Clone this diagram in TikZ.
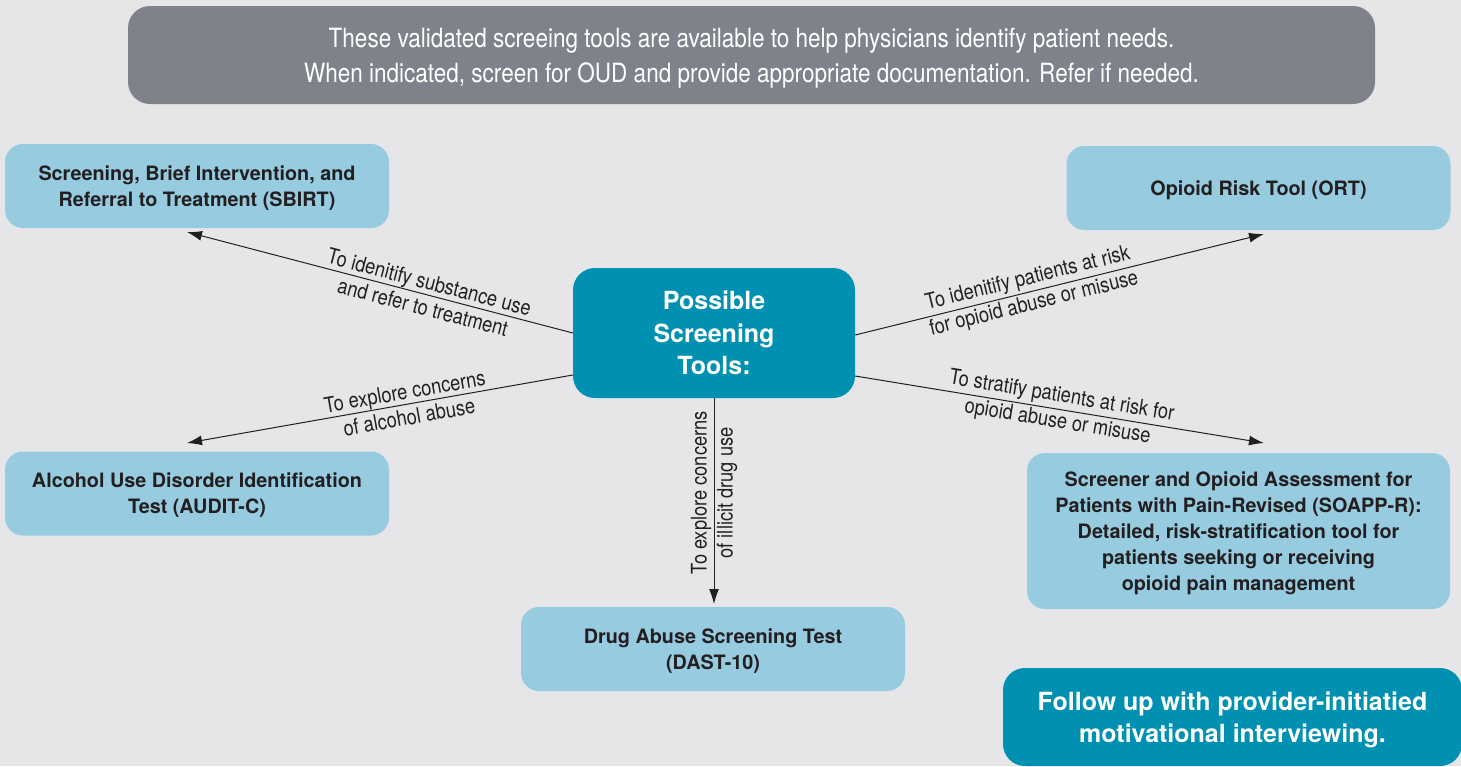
\documentclass[tikz,border=0pt]{standalone}
\usepackage{fontspec}
\setmainfont{TeX Gyre Heros}
\newfontfamily\condfont[FakeStretch=0.85]{TeX Gyre Heros}
\usetikzlibrary{arrows.meta,positioning}
\definecolor{bgGray}{HTML}{E6E6E8}
\definecolor{bannerGray}{HTML}{80828B}
\definecolor{boxBlue}{HTML}{97CBE0}
\definecolor{hubTeal}{HTML}{0090B2}
\definecolor{txtDark}{HTML}{231F20}

\begin{document}
\begin{tikzpicture}[x=1pt,y=-1pt,
    box/.style={fill=boxBlue, rounded corners=18pt, inner sep=0pt, align=center, text depth=0pt,
      text=txtDark, font=\bfseries\fontsize{19.8}{26}\selectfont},
    hub/.style={fill=hubTeal, rounded corners=22pt, inner sep=0pt, align=center, text depth=0pt,
      text=white, font=\bfseries\fontsize{25}{32.5}\selectfont},
    lbl/.style={text=txtDark, align=center, inner sep=1pt,
      font=\condfont\fontsize{21.5}{26}\selectfont},
    link/.style={draw=txtDark, line width=1pt, -{Latex[length=15pt,width=10pt]}}]
        % page
        \fill[bgGray] (0,0) rectangle (1461,766);
        \useasboundingbox (0,0) rectangle (1461,766);
        % banner
        \node[fill=bannerGray, rounded corners=22pt, minimum width=1247pt, minimum height=98pt, text depth=0pt,
          align=center, text=white, font=\condfont\fontsize{26.5}{35}\selectfont] (banner) at (751.5,55)
          {These validated screeing tools are available to help physicians identify patient needs.\\
           When indicated, screen for OUD and provide appropriate documentation. Refer if needed.};
        % hub and tools
        \node[hub, minimum width=282pt, minimum height=130pt] (ctr) at (714,333) {Possible\\Screening\\Tools:};
        \node[box, minimum width=384pt, minimum height=84pt] (sbirt) at (197,186)
          {Screening, Brief Intervention, and\\Referral to Treatment (SBIRT)};
        \node[box, minimum width=384pt, minimum height=84pt] (ort) at (1258.5,188) {Opioid Risk Tool (ORT)};
        \node[box, minimum width=384pt, minimum height=84pt] (audit) at (197,493.5)
          {Alcohol Use Disorder Identification\\Test (AUDIT-C)};
        \node[box, minimum width=423pt, minimum height=156pt] (soapp) at (1238.5,531)
          {Screener and Opioid Assessment for\\Patients with Pain-Revised (SOAPP-R):\\
           Detailed, risk-stratification tool for\\patients seeking or receiving\\opioid pain management};
        \node[box, minimum width=384pt, minimum height=84pt] (dast) at (713,649)
          {Drug Abuse Screening Test\\(DAST-10)};
        \node[hub, minimum width=459pt, minimum height=98pt] (follow) at (1232.5,717)
          {Follow up with provider-initiatied\\motivational interviewing.};
        % arrow tips below/above the boxes
        \coordinate (sbirtTip) at (187,232);
        \coordinate (auditTip) at (187,443);
        \coordinate (dastTip) at (714,604);
        \coordinate (ortTip) at (1264,234);
        \coordinate (soappTip) at (1264,443);
        \draw[link] (ctr.west) -- node[lbl, sloped, pos=0.38] {To idenitify substance use\\and refer to treatment} (sbirtTip);
        \draw[link] ([yshift=-42pt]ctr.west) -- node[lbl, sloped, pos=0.43] {To explore concerns\\of alcohol abuse} (auditTip);
        \draw[link] (ctr.south) -- node[lbl, rotate=90, pos=0.46] {To explore concerns\\of illicit drug use} (dastTip);
        \draw[link] ([yshift=-2pt]ctr.east) -- node[lbl, sloped, pos=0.43] {To idenitify patients at risk\\for opioid abuse or misuse} (ortTip);
        \draw[link] ([yshift=-43pt]ctr.east) -- node[lbl, sloped, pos=0.5] {To stratify patients at risk for\\opioid abuse or misuse} (soappTip);
\end{tikzpicture}
\end{document}
